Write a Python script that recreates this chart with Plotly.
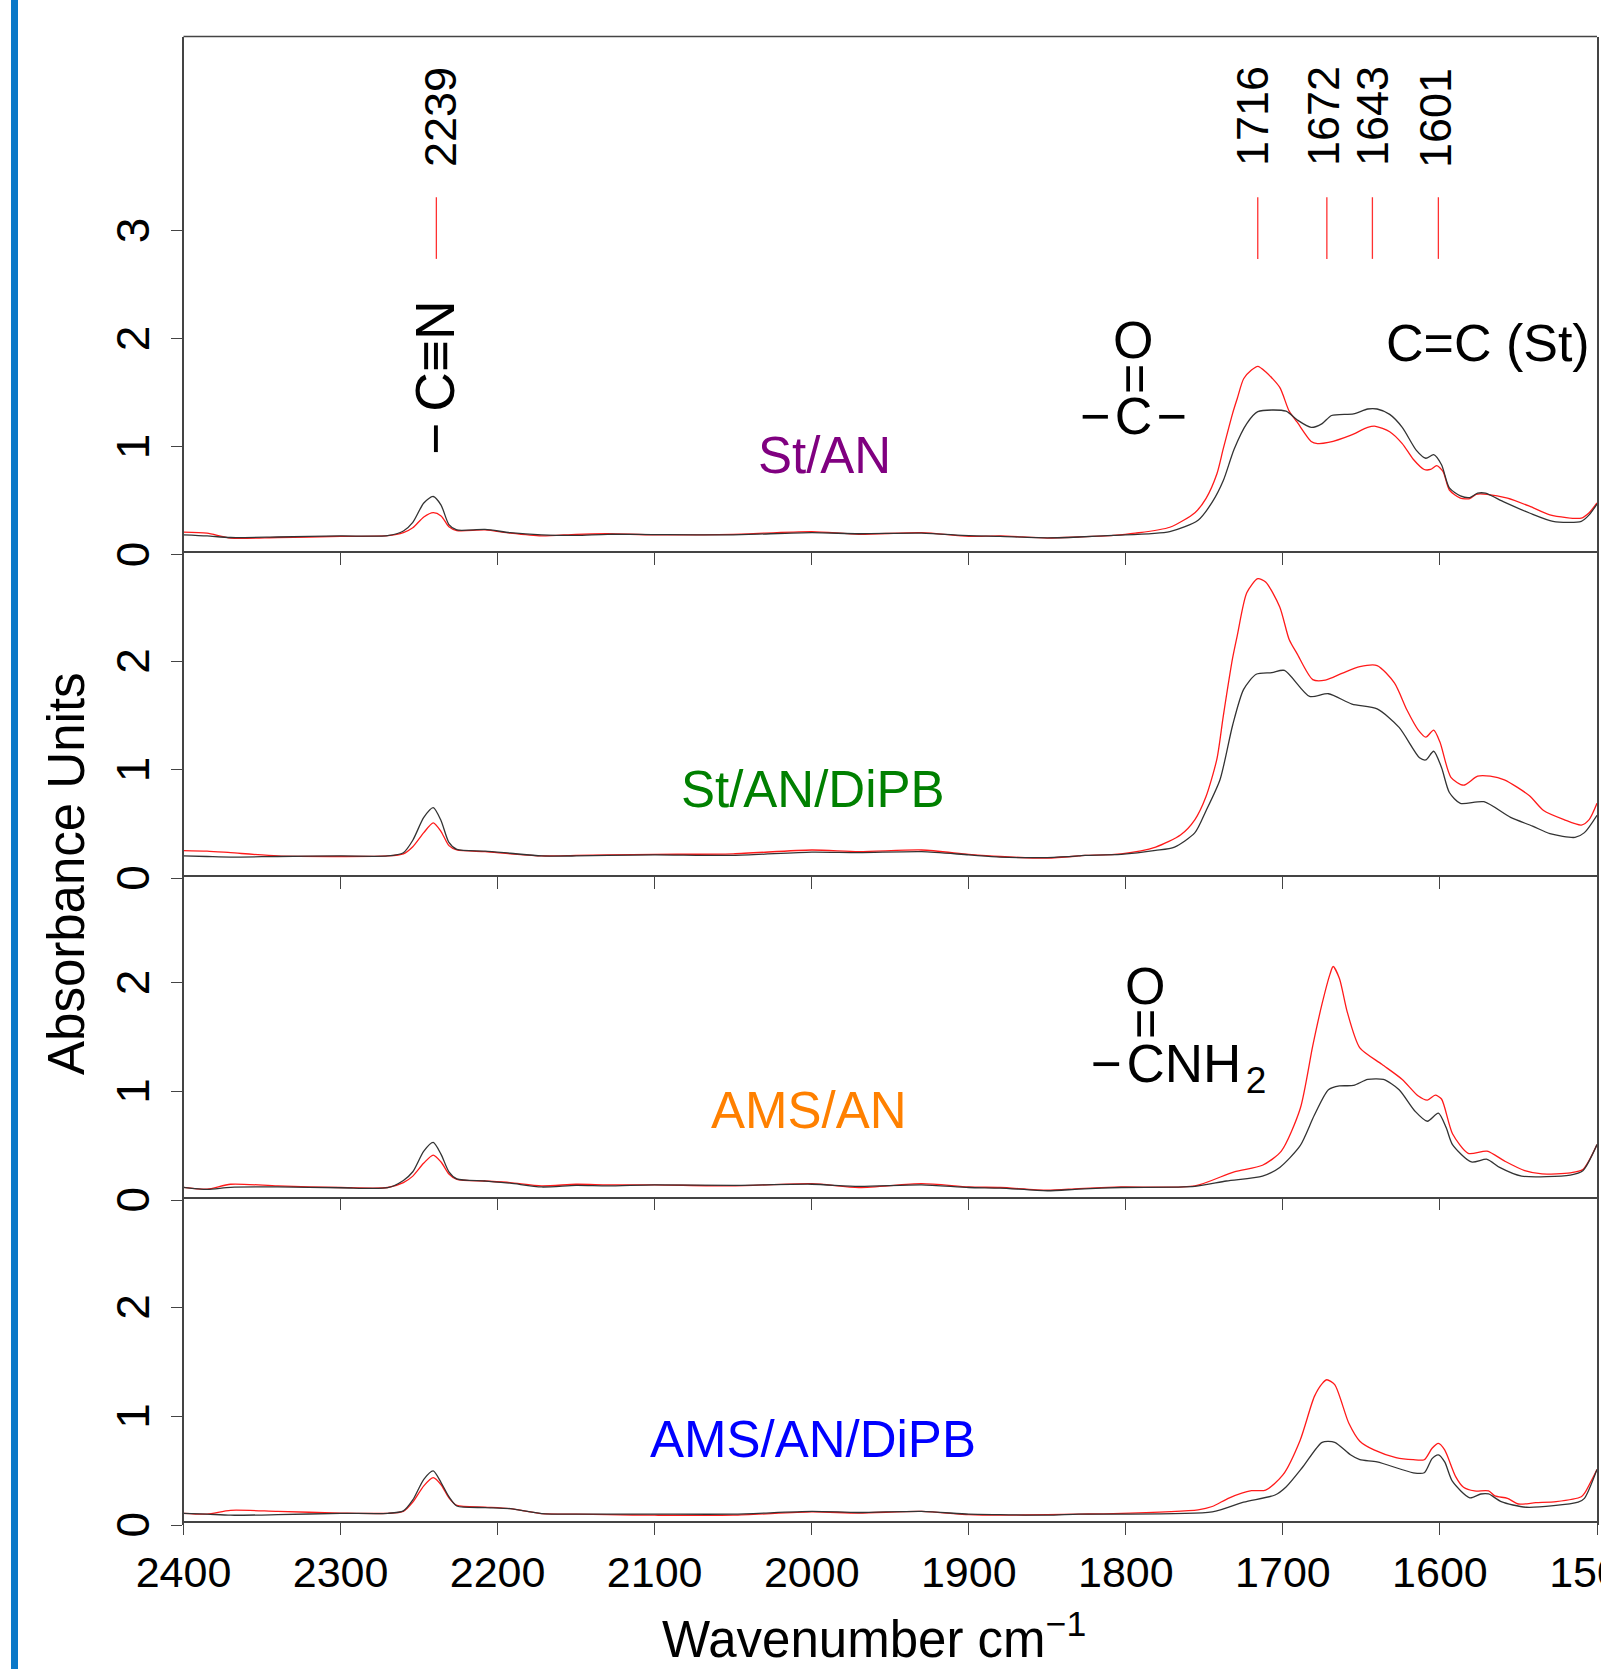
import plotly.graph_objects as go

W, H = 1601, 1669
FONT = "Liberation Sans"

# ---------- data: wavenumbers (cm-1) and absorbance ----------
left_wn = [2400, 2385, 2370, 2340, 2300, 2270, 2260, 2254, 2247, 2241, 2236, 2231, 2226, 2208, 2192,
           2172, 2150, 2130, 2100, 2050, 2000, 1970, 1930, 1900, 1880, 1850, 1830]

p1_red_y_left = [.21, .20, .155, .16, .17, .177, .205, .25, .35, .39, .36, .26, .225, .23, .20,
                 .175, .19, .195, .185, .19, .215, .19, .205, .17, .175, .155, .165]
p1_blk_y_left = [.185, .175, .16, .165, .175, .177, .22, .30, .48, .54, .46, .28, .23, .235, .205,
                 .185, .18, .19, .187, .185, .205, .195, .20, .177, .17, .157, .165]
p1_red_x = [1808, 1794, 1772, 1756, 1749, 1742, 1738, 1732, 1729, 1725, 1720, 1716, 1711, 1702, 1696, 1691,
            1682, 1678, 1671, 1657, 1646, 1641, 1632, 1624, 1617, 1610, 1606, 1602, 1598, 1594, 1587, 1581,
            1577, 1570, 1557, 1543, 1530, 1510, 1505, 1500]
p1_red_y = [.18, .20, .255, .39, .52, .75, .98, 1.31, 1.45, 1.63, 1.71, 1.745, 1.695, 1.55, 1.33, 1.23,
            1.05, 1.03, 1.04, 1.105, 1.18, 1.19, 1.14, 1.03, .885, .79, .79, .825, .77, .60, .525, .52,
            .56, .56, .525, .45, .37, .34, .39, .48]
p1_blk_x = [1808, 1772, 1754, 1745, 1738, 1731, 1723, 1716, 1698, 1691, 1682, 1675, 1669, 1655, 1646, 1640,
            1632, 1624, 1615, 1609, 1604, 1599, 1594, 1587, 1581, 1576, 1571, 1559, 1543, 1528, 1510, 1505, 1500]
p1_blk_y = [.18, .215, .32, .487, .685, .98, 1.215, 1.325, 1.33, 1.25, 1.18, 1.215, 1.29, 1.305, 1.35, 1.35,
            1.30, 1.18, .967, .894, .927, .834, .62, .546, .53, .57, .57, .487, .387, .31, .31, .37, .47]

p2_red_y_left = [.255, .25, .235, .205, .20, .205, .225, .29, .42, .51, .43, .30, .26, .245, .225,
                 .205, .21, .215, .22, .225, .26, .245, .26, .22, .20, .185, .205]
p2_blk_y_left = [.205, .20, .195, .20, .205, .205, .235, .35, .56, .65, .53, .33, .265, .25, .23,
                 .205, .205, .21, .215, .21, .24, .235, .245, .215, .195, .19, .205]
p2_red_x = [1826, 1803, 1781, 1765, 1756, 1749, 1742, 1738, 1732, 1729, 1723, 1716, 1711, 1702, 1696, 1691,
            1681, 1673, 1662, 1651, 1640, 1629, 1621, 1614, 1609, 1604, 1600, 1593, 1585, 1576, 1568, 1559,
            1543, 1534, 1521, 1510, 1505, 1500]
p2_red_y = [.21, .225, .287, .40, .54, .75, 1.10, 1.49, 2.03, 2.24, 2.63, 2.76, 2.73, 2.50, 2.20, 2.07,
            1.83, 1.825, 1.89, 1.95, 1.96, 1.80, 1.55, 1.37, 1.30, 1.365, 1.255, .93, .857, .94, .94, .907,
            .76, .624, .54, .49, .54, .69]
p2_blk_x = [1826, 1803, 1781, 1769, 1756, 1749, 1740, 1732, 1725, 1717, 1707, 1699, 1683, 1671, 1656, 1640,
            1626, 1613, 1609, 1604, 1599, 1594, 1587, 1572, 1555, 1541, 1530, 1514, 1508, 1500]
p2_blk_y = [.21, .22, .256, .287, .42, .62, .91, 1.41, 1.74, 1.88, 1.895, 1.915, 1.675, 1.70, 1.605, 1.56,
            1.39, 1.11, 1.09, 1.17, 1.02, .79, .69, .705, .56, .48, .41, .376, .42, .58]

p3_red_y_left = [.117, .10, .145, .13, .115, .115, .16, .22, .34, .414, .35, .24, .19, .175, .16,
                 .13, .145, .14, .14, .13, .15, .115, .15, .12, .115, .09, .105]
p3_blk_y_left = [.117, .098, .117, .12, .113, .113, .18, .26, .45, .53, .42, .26, .195, .175, .155,
                 .12, .135, .13, .14, .135, .145, .125, .14, .115, .11, .085, .10]
p3_red_x = [1803, 1756, 1731, 1713, 1701, 1689, 1681, 1675, 1670, 1668, 1664, 1659, 1651, 1637, 1624, 1614,
            1608, 1603, 1599, 1592, 1582, 1570, 1559, 1546, 1535, 1517, 1509, 1500]
p3_red_y = [.12, .13, .26, .32, .45, .84, 1.42, 1.81, 2.08, 2.15, 2.04, 1.73, 1.40, 1.25, 1.11, .96,
            .92, .965, .93, .61, .43, .45, .36, .27, .24, .25, .28, .51]
p3_blk_x = [1803, 1756, 1736, 1713, 1702, 1689, 1680, 1671, 1664, 1655, 1646, 1636, 1626, 1616, 1608, 1601,
            1596, 1592, 1580, 1570, 1562, 1548, 1517, 1509, 1500]
p3_blk_y = [.115, .125, .175, .22, .30, .50, .78, 1.015, 1.05, 1.055, 1.11, 1.11, 1.015, .82, .725, .80,
            .665, .51, .35, .375, .30, .22, .23, .27, .51]

p4_red_y_left = [.107, .10, .135, .125, .11, .107, .125, .21, .36, .435, .37, .25, .18, .165, .15,
                 .105, .10, .095, .09, .09, .12, .11, .125, .095, .09, .095, .10]
p4_blk_y_left = [.107, .10, .09, .095, .107, .107, .13, .23, .42, .497, .39, .26, .175, .16, .15,
                 .105, .10, .10, .10, .10, .125, .115, .125, .10, .095, .09, .10]
p4_red_x = [1808, 1754, 1745, 1734, 1720, 1711, 1700, 1689, 1680, 1675, 1672, 1667, 1658, 1651, 1642, 1628,
            1617, 1610, 1605, 1601, 1597, 1590, 1585, 1578, 1569, 1565, 1557, 1550, 1539, 1526, 1510, 1508, 1500]
p4_red_y = [.105, .14, .17, .25, .315, .32, .46, .78, 1.18, 1.30, 1.335, 1.29, .935, .77, .69, .62,
            .60, .60, .705, .75, .69, .445, .347, .313, .313, .267, .245, .193, .205, .215, .26, .29, .51]
p4_blk_x = [1808, 1745, 1725, 1705, 1698, 1687, 1675, 1667, 1657, 1651, 1640, 1617, 1610, 1605, 1601, 1597,
            1592, 1581, 1574, 1569, 1561, 1545, 1512, 1508, 1500]
p4_blk_y = [.10, .12, .21, .276, .35, .54, .76, .76, .645, .60, .58, .48, .48, .61, .645, .58,
            .40, .25, .285, .285, .215, .163, .21, .245, .51]

x_ticks = [2400, 2300, 2200, 2100, 2000, 1900, 1800, 1700, 1600, 1500]
peak_wn = [2239, 1716, 1672, 1643, 1601]
peak_labels = ["2239", "1716", "1672", "1643", "1601"]
peak_line_low, peak_line_high = 2.74, 3.31
sample_names = ["St/AN", "St/AN/DiPB", "AMS/AN", "AMS/AN/DiPB"]
sample_colors = ["#800080", "#008000", "#ff8000", "#0000ff"]

# ---------- panel geometry in page pixels: top, bottom, y of value 0, px per unit ----------
panels = [(36.5, 552.2, 554.8, 108.0), (552.2, 875.9, 878.2, 108.5),
          (875.9, 1197.6, 1200.0, 108.6), (1197.6, 1522.0, 1525.0, 108.8)]
y_tick_sets = [[0, 1, 2, 3], [0, 1, 2], [0, 1, 2], [0, 1, 2]]
X0, X1 = 183.5, 1597.0
AX = "#444444"


def px(x):
    return x / W


def py(y):
    return 1 - y / H


series = [
    (p1_red_y_left, p1_red_x, p1_red_y, p1_blk_y_left, p1_blk_x, p1_blk_y),
    (p2_red_y_left, p2_red_x, p2_red_y, p2_blk_y_left, p2_blk_x, p2_blk_y),
    (p3_red_y_left, p3_red_x, p3_red_y, p3_blk_y_left, p3_blk_x, p3_blk_y),
    (p4_red_y_left, p4_red_x, p4_red_y, p4_blk_y_left, p4_blk_x, p4_blk_y),
]

fig = go.Figure()
layout = dict(
    width=W, height=H, autosize=False, showlegend=False,
    margin=dict(l=0, r=0, t=0, b=0, autoexpand=False), paper_bgcolor="white", plot_bgcolor="rgba(0,0,0,0)",
    font=dict(family=FONT, color="black"),
)

for i, ((top, bot, zero, unit), s) in enumerate(zip(panels, series)):
    n = i + 1
    ax = "x" if i == 0 else f"x{n}"
    ay = "y" if i == 0 else f"y{n}"
    ryl, rx, ry, byl, bx, by = s
    fig.add_trace(go.Scatter(x=left_wn + rx, y=ryl + ry, mode="lines", xaxis=ax, yaxis=ay,
                             name=sample_names[i] + " (red)",
                             line=dict(color="#ff1a1a", width=1.3, shape="spline", smoothing=0.7)))
    fig.add_trace(go.Scatter(x=left_wn + bx, y=byl + by, mode="lines", xaxis=ax, yaxis=ay,
                             name=sample_names[i] + " (black)",
                             line=dict(color="#333333", width=1.3, shape="spline", smoothing=0.7)))
    layout[f"xaxis{n}"] = dict(
        domain=[px(X0), px(X1)], range=[2400, 1500], anchor="free", position=py(bot),
        tickmode="array", tickvals=x_ticks, ticktext=[str(t) for t in x_ticks],
        showticklabels=i == 3, ticks="outside", ticklen=12, tickwidth=1.4, tickcolor=AX,
        showline=True, linecolor=AX, linewidth=1.6, showgrid=False, zeroline=False, automargin=False,
        tickfont=dict(size=43, family=FONT, color="black"), tickangle=0, ticklabelstandoff=1,
        ticklabeloverflow="allow",
    )
    # the value 0 sits a little under the panel's lower line, so the y axis reaches down to it
    layout[f"yaxis{n}"] = dict(
        domain=[py(zero), py(top)], range=[0, (zero - top) / unit], anchor=ax,
        tickmode="array", tickvals=y_tick_sets[i], ticktext=[f"{t}\u2009\u200a" for t in y_tick_sets[i]],
        ticks="outside", ticklen=11, tickwidth=1.4, tickcolor=AX, tickangle=-90,
        showline=True, linecolor=AX, linewidth=1.6, mirror=True, showgrid=False, zeroline=False,
        automargin=False, ticklabeloverflow="allow",
        tickfont=dict(size=46, family=FONT, color="black"), ticklabelstandoff=3,
    )

# red peak markers in the top panel
for wn in peak_wn:
    fig.add_trace(go.Scatter(x=[wn, wn], y=[peak_line_low, peak_line_high], mode="lines", xaxis="x", yaxis="y",
                             showlegend=False, line=dict(color="#ff3030", width=1.3)))

ann = []


def note(x, y, text, size=51, color="black", angle=0):
    ann.append(dict(x=px(x), y=py(y), xref="paper", yref="paper", text=text, showarrow=False,
                    xanchor="center", yanchor="middle", textangle=angle,
                    font=dict(size=size, color=color, family=FONT)))


label_px = [(441, 117), (1252, 116), (1323, 116), (1372, 116), (1435, 118)]
for lab, (x, y) in zip(peak_labels, label_px):
    note(x, y, lab, size=45, angle=-90)

for name, col, (x, y) in zip(sample_names, sample_colors, [(824, 455), (813, 789), (809, 1110), (813, 1439)]):
    note(x, y, name, color=col)

note(435, 378, "\u2212\u2009C\u2261N", size=55, angle=-90)
note(1133, 340, "O", size=52)
note(1134, 379, "=", size=52, angle=-90)
note(1133, 416, "\u2212\u200aC\u200a\u2212", size=52)
note(1488, 343, "C=C (St)", size=52)
note(1145, 986, "O", size=52)
note(1145, 1024, "=", size=52, angle=-90)
note(1178, 1067, "\u2212\u200aCNH\u200a<sub>2</sub>", size=53)
note(66, 874, "Absorbance Units", angle=-90)
note(874, 1636, "Wavenumber cm<sup>\u22121</sup>")

layout["annotations"] = ann
layout["shapes"] = [
    dict(type="rect", xref="paper", yref="paper", x0=px(11), x1=px(18), y0=0, y1=1,
         fillcolor="#0a78c8", line=dict(width=0), layer="below"),
    dict(type="line", xref="paper", yref="paper", x0=px(X0), x1=px(X1), y0=py(panels[0][0]), y1=py(panels[0][0]),
         line=dict(color=AX, width=1.5)),
]
fig.update_layout(**layout)
fig.write_html("out.html", post_script="document.body.style.margin='0';",
               config={"displayModeBar": False})
